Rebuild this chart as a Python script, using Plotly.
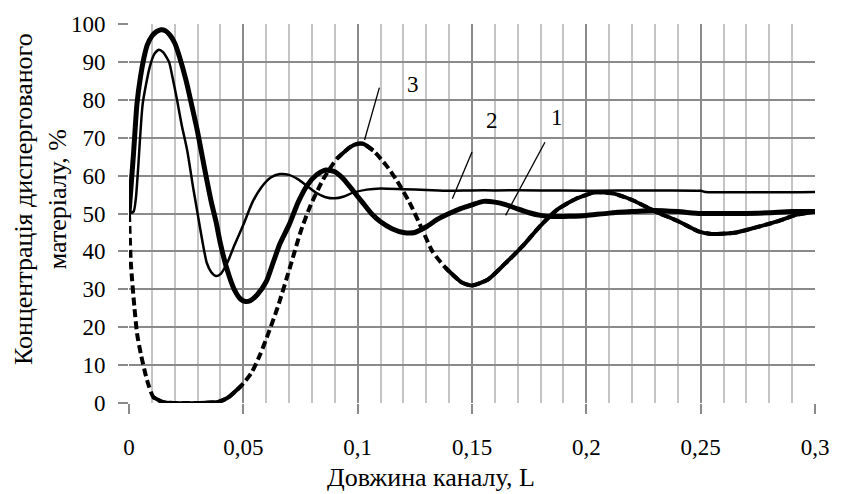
import numpy as np
import plotly.graph_objects as go

# ---- data ----
x_c1 = [0, 0.001, 0.002, 0.0035, 0.005, 0.0065, 0.008, 0.01, 0.012, 0.014, 0.016, 0.018, 0.02, 0.022,
        0.025, 0.028, 0.03, 0.033, 0.036, 0.038, 0.04, 0.043, 0.046, 0.049, 0.051, 0.053, 0.056, 0.06,
        0.063, 0.066, 0.07, 0.074, 0.078, 0.082, 0.086, 0.09, 0.094, 0.098, 0.102, 0.106, 0.11, 0.115,
        0.12, 0.125, 0.13, 0.135, 0.14, 0.145, 0.15, 0.155, 0.16, 0.165, 0.17, 0.175, 0.18, 0.185, 0.19,
        0.195, 0.2, 0.21, 0.22, 0.23, 0.24, 0.25, 0.26, 0.27, 0.28, 0.29, 0.3]
y_c1 = [50, 58, 66, 79, 86, 91, 94.5, 96.8, 98, 98.5, 98.2, 97, 95, 91.5,
        85, 77, 71.5, 62, 53, 48, 42, 35, 30, 27.3, 26.8, 27, 28.5, 32,
        37, 42, 47, 53, 57.5, 60.2, 61.5, 61, 59, 56, 53, 50, 47.8, 46,
        45, 45, 46.5, 48.5, 50, 51.3, 52.3, 53.2, 53, 52.3, 51.2, 50.2, 49.5, 49.2, 49.2,
        49.3, 49.5, 50.1, 50.5, 50.8, 50.5, 50.0, 50.0, 50.0, 50.2, 50.5, 50.5]

x_c2 = [0, 0.002, 0.003, 0.004, 0.006, 0.009, 0.011, 0.013, 0.015, 0.0175, 0.019, 0.021, 0.023, 0.0255,
        0.028, 0.03, 0.032, 0.034, 0.036, 0.038, 0.04, 0.043, 0.046, 0.05, 0.054, 0.058, 0.062, 0.066,
        0.07, 0.074, 0.078, 0.082, 0.086, 0.09, 0.094, 0.098, 0.104, 0.11, 0.12, 0.13, 0.14, 0.15,
        0.16, 0.18, 0.2, 0.25, 0.252, 0.3]
y_c2 = [50, 50.5, 54, 62, 79, 88.5, 92, 93.2, 92.5, 90, 86, 80, 73.5, 66.5,
        57, 50, 43, 37, 34.5, 33.5, 34, 37, 41.5, 47, 53, 57, 59.5, 60.4,
        60.2, 59, 57.2, 55.4, 54.3, 54, 54.5, 55.5, 56.3, 56.6, 56.4, 56.2, 56.0, 56.1,
        56.1, 56.1, 56.0, 56.0, 55.7, 55.7]

x_c3 = [0, 0.0008, 0.0024, 0.0036, 0.0053, 0.0079, 0.0107, 0.015, 0.02, 0.03, 0.039, 0.043, 0.049,
        0.0536, 0.0575, 0.061, 0.065, 0.0708, 0.0751, 0.0795, 0.0852, 0.091, 0.0967, 0.1, 0.1024,
        0.1068, 0.1125, 0.1168, 0.1226, 0.1283, 0.1327, 0.1384, 0.1456, 0.15, 0.157, 0.164, 0.172,
        0.1795, 0.187, 0.1955, 0.204, 0.2116, 0.2203, 0.2303, 0.2404, 0.249, 0.2547, 0.2648, 0.2734,
        0.2835, 0.2921, 0.3]
y_c3 = [50, 37, 25, 18, 12.6, 6, 1.5, 0.2, 0, 0, 0.3, 1.3, 4.5,
        8, 13, 18.5, 25.2, 36.6, 45.3, 52.3, 59.3, 64.5, 67.5, 68.4, 68.4,
        66.6, 62.7, 59, 53, 45.7, 40, 35.7, 31.8, 31, 32.6, 36.5, 41.3,
        46.5, 50.9, 53.9, 55.6, 55.3, 53.5, 50.5, 47.9, 45.3, 44.6, 44.9, 46.2,
        47.9, 49.7, 50.5]

x_ticks = [0, 0.05, 0.1, 0.15, 0.2, 0.25, 0.3]
x_tick_text = ["0", "0,05", "0,1", "0,15", "0,2", "0,25", "0,3"]
y_ticks = [0, 10, 20, 30, 40, 50, 60, 70, 80, 90, 100]

# curve labels: (text, text x, text y, leader start x, y, leader end x, y)
labels = [
    ("3", 0.1241, 84.0, 0.1095, 83.2, 0.1030, 69.4),
    ("2", 0.1586, 74.6, 0.1500, 66.2, 0.1414, 53.9),
    ("1", 0.1870, 75.4, 0.1819, 68.8, 0.1647, 49.5),
]

# ---- layout geometry ----
W, H = 841, 494
ML, MR, MT, MB = 129, 16, 22, 91
pw, ph = W - ML - MR, H - MT - MB
FONT = "Liberation Serif"
FS = 23
FT = 26
MAJOR = "#8a8a8a"
MINOR = "#c4c4c4"

fig = go.Figure()

fig.add_trace(go.Scatter(x=x_c2, y=y_c2, mode="lines", name="2",
                         line=dict(color="black", width=2.5, shape="spline", smoothing=0.6)))
fig.add_trace(go.Scatter(x=x_c1, y=y_c1, mode="lines", name="1",
                         line=dict(color="black", width=5, shape="spline", smoothing=0.6)))
fig.add_trace(go.Scatter(x=x_c3, y=y_c3, mode="lines", name="3",
                         line=dict(color="black", width=4, dash="8px,4px", shape="spline", smoothing=0.6)))

# Excel restarts the dash pattern every segment: gentle segments look solid
sx = pw / 0.3
sy = ph / 100.0
xs = np.array(x_c3)
ys = np.array(y_c3, dtype=float)
solid = [None] * len(ys)
for i in range(len(ys) - 1):
    dx = (xs[i + 1] - xs[i]) * sx
    dy = (ys[i + 1] - ys[i]) * sy
    if abs(dy) <= 1.0 * dx:
        solid[i] = ys[i]
        solid[i + 1] = ys[i + 1]
fig.add_trace(go.Scatter(x=x_c3, y=solid, mode="lines", name="3s", connectgaps=False,
                         line=dict(color="black", width=4, shape="spline", smoothing=0.6)))

for txt, tx, ty, lx0, ly0, lx1, ly1 in labels:
    fig.add_annotation(x=tx, y=ty, text=txt, showarrow=False, xref="x", yref="y",
                       font=dict(family=FONT, size=FS, color="black"))
    fig.add_shape(type="line", x0=lx0, y0=ly0, x1=lx1, y1=ly1, xref="x", yref="y",
                  line=dict(color="black", width=1.3))

fig.add_annotation(text="Концентрація диспергованого<br>матеріалу, %", textangle=-90,
                   xref="paper", yref="paper", x=0, y=(H - MB - 198) / ph,
                   xshift=-(ML - 40), xanchor="center", yanchor="middle", showarrow=False,
                   font=dict(family=FONT, size=FT, color="black"))
fig.add_annotation(text="Довжина каналу, L", xref="paper", yref="paper",
                   x=(435 - ML) / pw, y=0, yshift=-(477 - (H - MB)), xanchor="center", yanchor="middle",
                   showarrow=False, font=dict(family=FONT, size=FT, color="black"))

fig.update_layout(
    width=W, height=H,
    margin=dict(l=ML, r=MR, t=MT, b=MB, pad=0),
    paper_bgcolor="white", plot_bgcolor="white",
    showlegend=False,
    font=dict(family=FONT, size=FS, color="black"),
    xaxis=dict(range=[0, 0.3], tickmode="array", tickvals=x_ticks, ticktext=x_tick_text,
               showgrid=True, gridcolor=MAJOR, gridwidth=1.5,
               ticks="outside", ticklen=10, tickcolor=MAJOR, tickwidth=1.5,
               zeroline=False, showline=False, ticklabelstandoff=13,
               minor=dict(dtick=0.01, tick0=0, showgrid=True, gridcolor=MINOR, gridwidth=1.5, ticks=""),
               tickfont=dict(family=FONT, size=FS, color="black")),
    yaxis=dict(range=[0, 100], tickmode="array", tickvals=y_ticks,
               showgrid=True, gridcolor=MAJOR, gridwidth=1.5,
               ticks="outside", ticklen=10, tickcolor=MAJOR, tickwidth=1.5,
               zeroline=False, showline=False, ticklabelstandoff=8,
               tickfont=dict(family=FONT, size=FS, color="black")),
)

fig.write_html("out.html")
